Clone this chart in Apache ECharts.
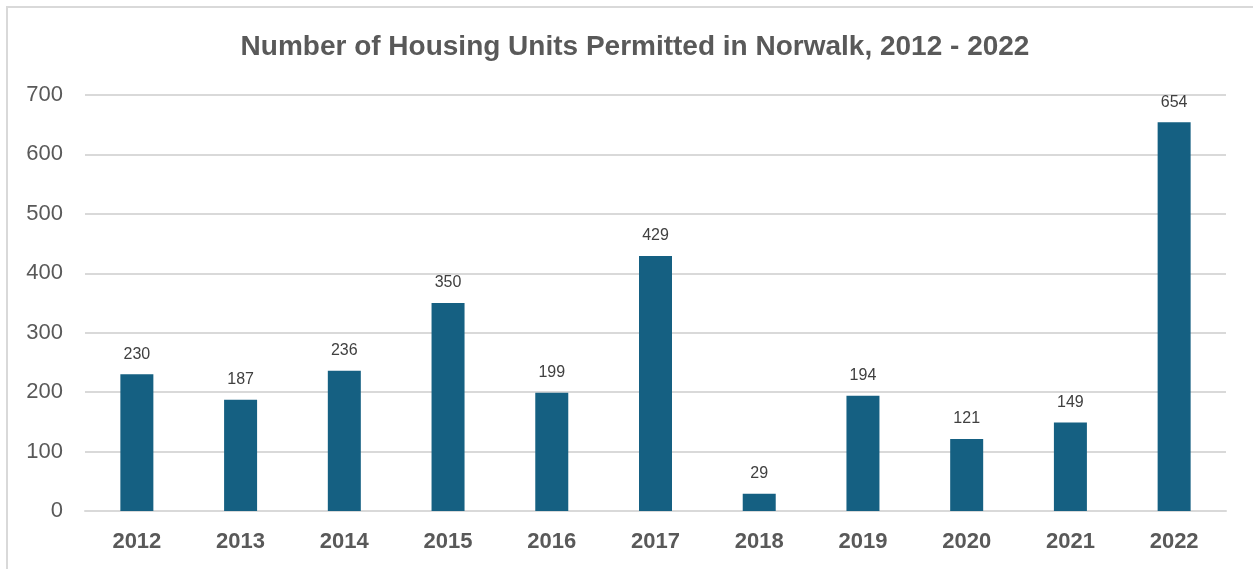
<!DOCTYPE html>
<html>
<head>
<meta charset="utf-8">
<script src="https://cdn.jsdelivr.net/npm/echarts@6/dist/echarts.min.js"></script>
<style>
  html, body { margin: 0; padding: 0; background: #fff; }
  #frame {
    position: absolute; left: 6px; top: 6px; width: 1247px; height: 563px;
    border-left: 2px solid #d9d9d9; border-top: 2px solid #d9d9d9;
    box-sizing: border-box;
  }
  #chart { position: absolute; left: 0; top: 0; width: 1253px; height: 569px; }
</style>
</head>
<body>
<div id="frame"></div>
<div id="chart"></div>
<script>
const years = ['2012', '2013', '2014', '2015', '2016', '2017', '2018', '2019', '2020', '2021', '2022']
const unitsPermitted = [230, 187, 236, 350, 199, 429, 29, 194, 121, 149, 654]

const chart = echarts.init(document.getElementById('chart'))

const option = {
  animation: false,
  title: {
    text: 'Number of Housing Units Permitted in Norwalk, 2012 - 2022',
    left: 630,
    top: 28,
    textAlign: 'center',
    textStyle: {
      fontFamily: 'Liberation Sans',
      fontSize: 28,
      fontWeight: 'bold',
      color: '#595959'
    }
  },
  grid: {
    left: 85,
    right: 27,
    top: 95,
    bottom: 58
  },
  xAxis: {
    type: 'category',
    data: years,
    axisLine: { lineStyle: { color: '#d9d9d9', width: 2 } },
    axisTick: { show: false },
    axisLabel: {
      margin: 20,
      fontFamily: 'Liberation Sans',
      fontSize: 22,
      fontWeight: 'bold',
      color: '#595959'
    }
  },
  yAxis: {
    type: 'value',
    min: 0,
    max: 700,
    interval: 100,
    axisLine: { show: false },
    axisTick: { show: false },
    splitLine: { lineStyle: { color: '#d9d9d9', width: 2 } },
    axisLabel: {
      margin: 22,
      fontFamily: 'Liberation Sans',
      fontSize: 22,
      color: '#595959'
    }
  },
  series: [
    {
      type: 'bar',
      data: unitsPermitted,
      barWidth: 33,
      itemStyle: { color: '#156082' },
      label: {
        show: true,
        position: 'top',
        distance: 12,
        fontFamily: 'Liberation Sans',
        fontSize: 16,
        color: '#404040'
      }
    }
  ]
}

chart.setOption(option)
</script>
</body>
</html>
